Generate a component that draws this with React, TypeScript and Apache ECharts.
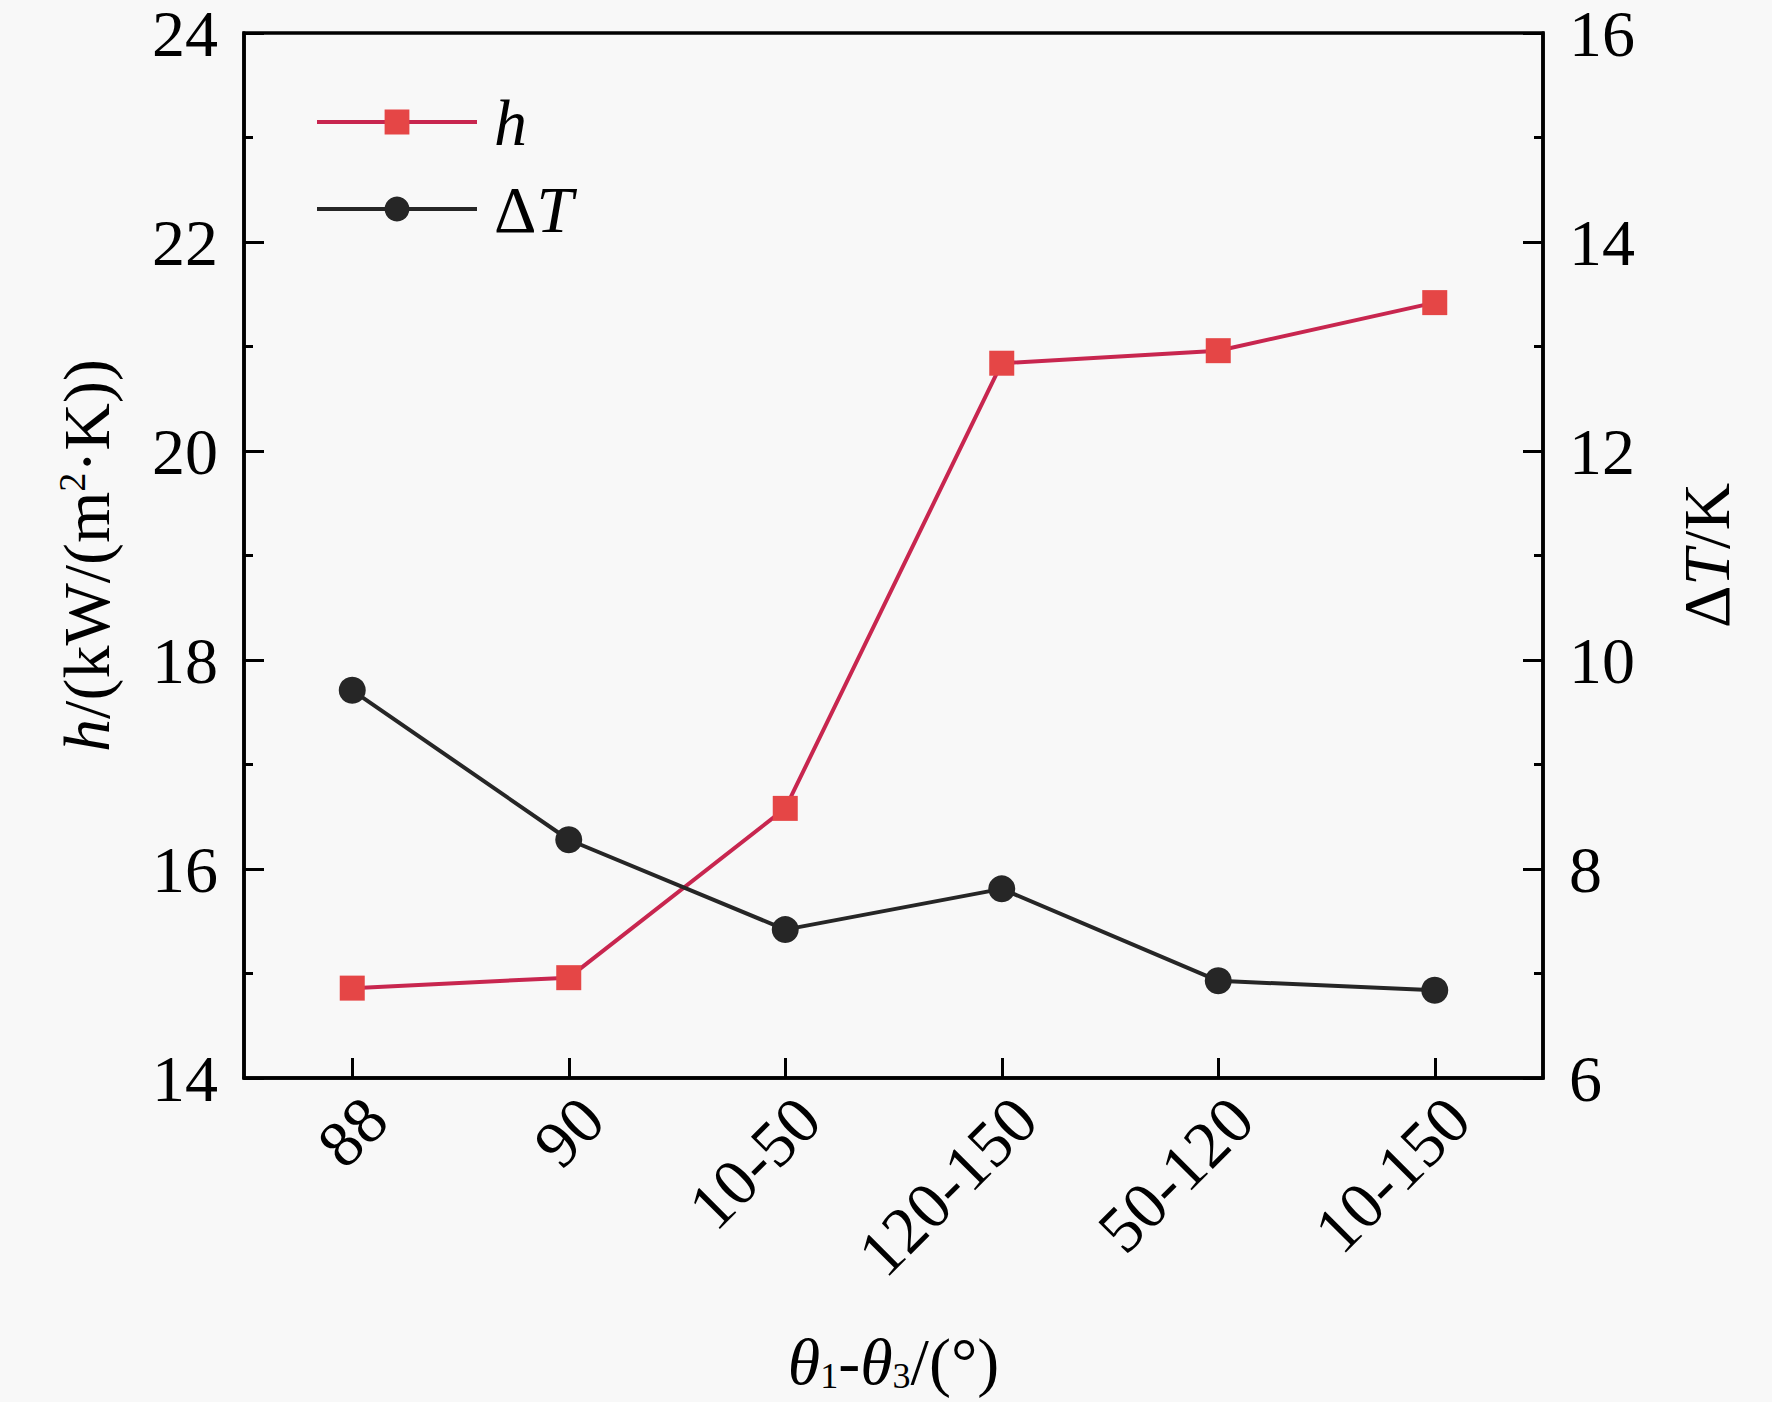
import React, { useEffect, useRef } from "react";
import * as echarts from "echarts";

const categories = ["88", "90", "10-50", "120-150", "50-120", "10-150"];
const hValues = [14.86, 14.96, 16.58, 20.84, 20.96, 21.42];
const dTValues = [9.71, 8.28, 7.42, 7.81, 6.93, 6.84];
const leftTicks = { min: 14, max: 24, interval: 2 };
const rightTicks = { min: 6, max: 16, interval: 2 };

const FONT = "Liberation Serif";
const H_LINE = "#C8264F";
const H_MARK = "#E54646";
const T_COLOR = "#262626";

export default function App() {
  const ref = useRef<HTMLDivElement>(null);
  useEffect(() => {
    document.body.style.margin = "0";
    const chart = echarts.init(ref.current!, null, { renderer: "svg" });
    const axisCommon = {
      axisLine: { show: true, lineStyle: { color: "#000", width: 3.5 } },
      axisTick: { show: true, inside: true, length: 20, lineStyle: { color: "#000", width: 3 } },
      minorTick: { show: true, splitNumber: 2, length: 9, lineStyle: { color: "#000", width: 3 } },
      splitLine: { show: false },
      axisLabel: { color: "#000", fontSize: 66, lineHeight: 60, fontFamily: FONT, margin: 26 },
    };
    const rich = {
      i: { fontStyle: "italic", fontSize: 66, fontFamily: FONT, color: "#000" },
      n: { fontSize: 66, fontFamily: FONT, color: "#000" },
      sup: { fontSize: 38, fontFamily: FONT, color: "#000", verticalAlign: "top" },
      sub: { fontSize: 36, fontFamily: FONT, color: "#000", verticalAlign: "bottom", lineHeight: 26 },
    };
    chart.setOption({
      animation: false,
      backgroundColor: "#f8f8f8",
      grid: { left: 244, right: 229, top: 33, bottom: 324, show: true, borderColor: "#000", borderWidth: 3.5 },
      legend: {
        orient: "vertical",
        left: 310,
        top: 84,
        itemWidth: 160,
        itemHeight: 31,
        itemGap: 21,
        data: ["h", "ΔT"],
        lineStyle: { width: 4 },
        textStyle: { fontSize: 66, fontFamily: FONT, color: "#000", padding: [0, 0, 0, 12], rich },
        formatter: (name: string) => (name === "h" ? "{i|h}" : "{n|Δ}{i|T}"),
      },
      xAxis: {
        type: "category",
        data: categories,
        boundaryGap: true,
        axisLine: { show: true, lineStyle: { color: "#000", width: 3.5 } },
        axisTick: { show: true, inside: true, alignWithLabel: true, length: 20, lineStyle: { color: "#000", width: 3 } },
        axisLabel: { color: "#000", fontSize: 66, fontFamily: FONT, rotate: 45, margin: 7, verticalAlign: "top", interval: 0 },
        name: "{i|θ}{sub|1}{n|-}{i|θ}{sub|3}{n|/(°)}",
        nameLocation: "middle",
        nameGap: 250,
        nameTextStyle: { fontSize: 66, fontFamily: FONT, color: "#000", rich },
      },
      yAxis: [
        {
          type: "value",
          position: "left",
          ...leftTicks,
          ...axisCommon,
          name: "{i|h}{n|/(kW/(m}{sup|2}{n|·K))}",
          nameLocation: "middle",
          nameRotate: 90,
          nameGap: 125,
          nameTextStyle: { fontSize: 66, fontFamily: FONT, color: "#000", rich },
        },
        {
          type: "value",
          position: "right",
          ...rightTicks,
          ...axisCommon,
          name: "{n|Δ}{i|T}{n|/K}",
          nameLocation: "middle",
          nameRotate: 90,
          nameGap: 130,
          nameTextStyle: { fontSize: 66, fontFamily: FONT, color: "#000", rich },
        },
      ],
      series: [
        {
          name: "h",
          type: "line",
          yAxisIndex: 0,
          data: hValues,
          symbol: "rect",
          symbolSize: 25,
          lineStyle: { color: H_LINE, width: 4 },
          itemStyle: { color: H_MARK },
        },
        {
          name: "ΔT",
          type: "line",
          yAxisIndex: 1,
          data: dTValues,
          symbol: "circle",
          symbolSize: 27,
          lineStyle: { color: T_COLOR, width: 4 },
          itemStyle: { color: T_COLOR },
        },
      ],
    });
    return () => chart.dispose();
  }, []);
  return <div ref={ref} style={{ width: 1772, height: 1402 }} />;
}
